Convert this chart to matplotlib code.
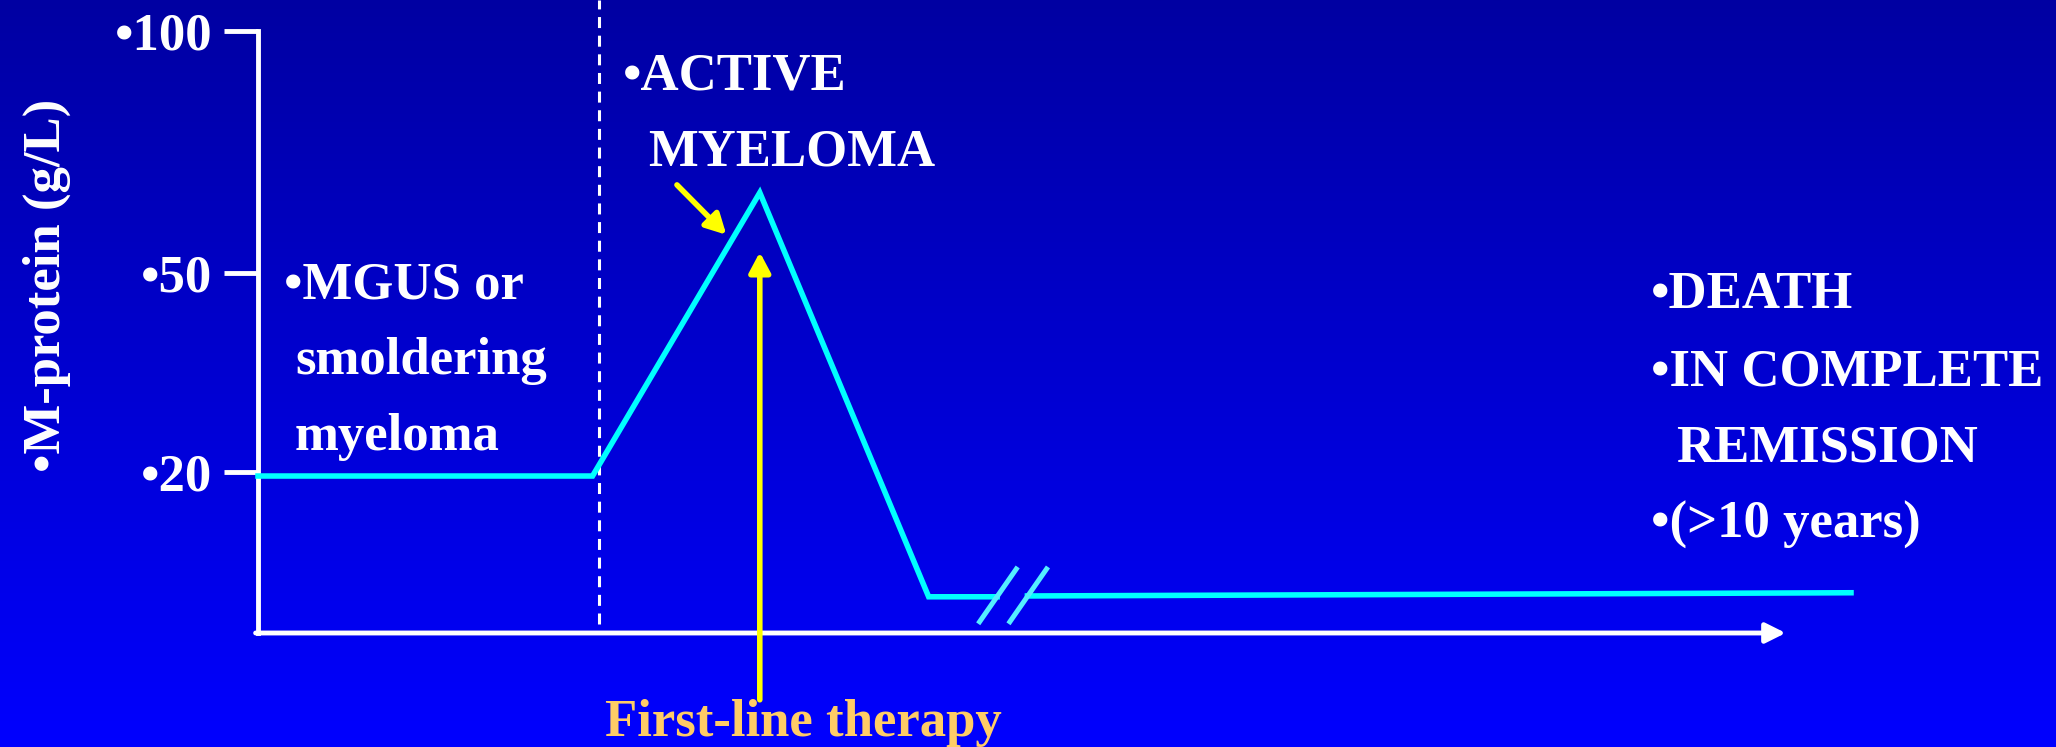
import numpy as np
import matplotlib
matplotlib.use("Agg")
import matplotlib.pyplot as plt
from matplotlib.colors import LinearSegmentedColormap

plt.rcParams['font.family'] = ['Liberation Serif', 'DejaVu Serif']
plt.rcParams['font.weight'] = 'bold'
plt.rcParams['axes.labelweight'] = 'bold'

#Data (schematic: time in arbitrary units, M-protein in g/L)
time = [0, 21, 31.5, 42.1, 46.4, np.nan, 48.3, 100]
m_protein = [19.5, 19.5, 66.6, 4.5, 4.5, np.nan, 4.6, 5.0]
y_ticks = [20, 50, 100]
y_tick_labels = ["\u202220", "\u202250", "\u2022100"]
onset_time = 21.4          # MGUS -> active myeloma
therapy_time = 31.5        # first-line therapy
therapy_arrow_y = [-8.3, 54.3]
active_arrow_x = [26.3, 29.4]
active_arrow_y = [68.2, 57.9]
break_x = [45.3, 47.2]     # axis break slashes (start x)
break_dx = 2.3
break_y = [1.4, 7.95]
axis_end = 95.9

#the sketch's y axis is not linear, so map values to axis positions piecewise
y_knots = [-50, 0, 20, 50, 100, 300]
pos_knots = [-402.5, 0, 161, 360, 602, 1570]

def fwd(v):
    return np.interp(v, y_knots, pos_knots)

def inv(p):
    return np.interp(p, pos_knots, y_knots)

W, H = 2056, 747
fig = plt.figure(figsize=(W / 100, H / 100), dpi=100)

#background gradient
bg = fig.add_axes([0, 0, 1, 1])
cmap = LinearSegmentedColormap.from_list("slide", ["#0000A2", "#0000FF"])
bg.imshow(np.linspace(0, 1, 256)[:, None], aspect='auto', cmap=cmap, extent=[0, 1, 0, 1])
bg.axis('off')

ax = fig.add_axes([258 / W, (H - 633) / H, 1593 / W, 633 / H])
ax.set_facecolor('none')
ax.set_yscale('function', functions=(fwd, inv))
ax.set_xlim(0, 100)
ax.set_ylim(0, 106.4)

#M-protein curve
ax.plot(time, m_protein, color='#00FFFF', lw=4, solid_joinstyle='miter', clip_on=False, zorder=4)
for bx in break_x:
    ax.plot([bx, bx + break_dx], break_y, color='#55EEFF', lw=3.6, clip_on=False, zorder=5)

#onset line
ax.axvline(onset_time, ymin=9 / 633, ymax=1, color='white', lw=2.2, ls=(0, (3.6, 2.5)), zorder=2)

#axes
for s in ['top', 'right', 'bottom']:
    ax.spines[s].set_visible(False)
ax.spines['left'].set_color('white')
ax.spines['left'].set_linewidth(3.5)
ax.spines['left'].set_bounds(0, 100)
ax.set_xticks([])
ax.set_yticks(y_ticks)
ax.set_yticklabels(y_tick_labels)
ax.tick_params(axis='y', direction='out', length=24.5, width=3.5, color='white',
               pad=8.6, labelsize=38, labelcolor='white')
ax.minorticks_off()
ax.annotate('', xy=(axis_end, 0), xytext=(-0.15, 0), annotation_clip=False,
            arrowprops=dict(arrowstyle='-|>,head_length=0.6,head_width=0.3', color='white',
                            lw=3.5, shrinkA=0, shrinkB=0, mutation_scale=20))
ax.set_ylabel("\u2022M-protein (g/L)", fontsize=38, fontweight='bold', color='white', va='center')
ax.yaxis.set_label_coords(-(258 - 47) / 1593, (633 - 285.5) / 633)

#yellow arrows
ax.annotate('', xy=(therapy_time, therapy_arrow_y[1]), xytext=(therapy_time, therapy_arrow_y[0]),
            annotation_clip=False, zorder=6,
            arrowprops=dict(arrowstyle='-|>,head_length=0.6,head_width=0.32', color='#FFFF00',
                            lw=4, shrinkA=0, shrinkB=0, mutation_scale=20))
ax.annotate('', xy=(active_arrow_x[1], active_arrow_y[1]), xytext=(active_arrow_x[0], active_arrow_y[0]),
            annotation_clip=False, zorder=6,
            arrowprops=dict(arrowstyle='-|>,head_length=0.6,head_width=0.32', color='#FFFF00',
                            lw=4, shrinkA=0, shrinkB=0, mutation_scale=20))

#labels (pixel positions of the slide)
def put(x, y, s, color='white'):
    fig.text(x / W, 1 - y / H, s, fontsize=38, color=color, ha='left', va='baseline')

put(623, 90, "\u2022ACTIVE")
put(648, 166, "MYELOMA")
put(284, 298, "\u2022MGUS or")
put(295, 374, "smoldering")
put(295, 450, "myeloma")
put(1651, 308, "\u2022DEATH")
put(1651, 385, "\u2022IN COMPLETE")
put(1676, 462, "REMISSION")
put(1651, 538, "\u2022(>10 years)")
put(605, 736, "First-line therapy", color='#FFCC66')

fig.savefig('out.png', dpi=100)
